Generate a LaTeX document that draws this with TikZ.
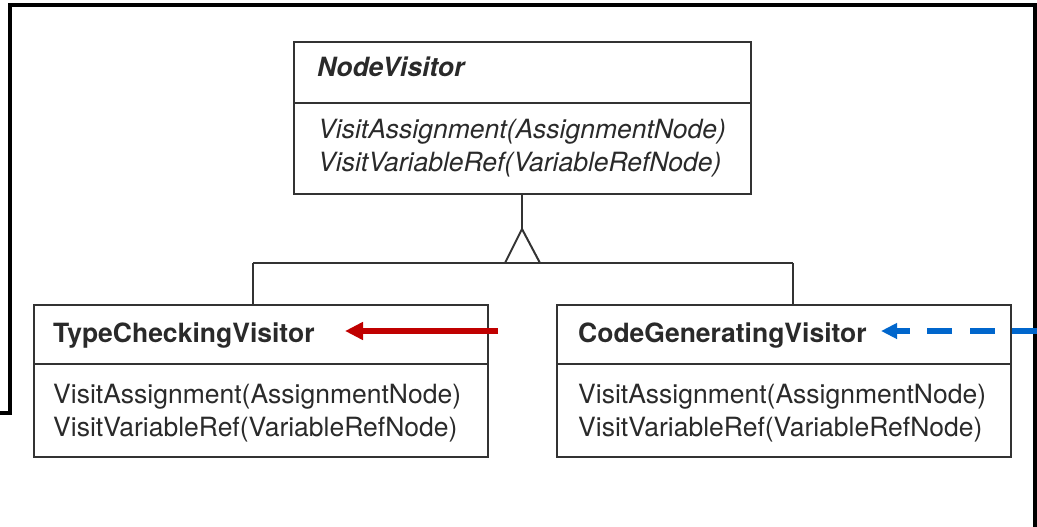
\documentclass[tikz,border=0pt]{standalone}
\usepackage{fontspec}
\setmainfont{TeX Gyre Heros}
\usetikzlibrary{arrows.meta}
\definecolor{boxgray}{HTML}{333333}
\definecolor{textgray}{HTML}{2A2A2A}
\definecolor{arrowred}{HTML}{C00000}
\definecolor{arrowblue}{HTML}{0066CC}
\begin{document}
\begin{tikzpicture}[x=1pt,y=-1pt,
  umlbox/.style={draw=boxgray, line width=2pt, rectangle, inner sep=0pt, outer sep=0pt, anchor=north west},
  boxline/.style={draw=boxgray, line width=2pt},
  txt/.style={anchor=base west, inner sep=0pt, text=textgray, font=\fontsize{26.5}{32}\selectfont},
  frameline/.style={draw=black, line width=4.5pt, miter limit=10},
  redarrow/.style={draw=arrowred, line width=5.5pt, -{Triangle[length=18pt,width=17pt]}},
  bluearrow/.style={draw=arrowblue, line width=6pt, dash pattern=on 25pt off 17.5pt, -{Triangle[length=16pt,width=15pt]}}
]
\useasboundingbox (0,0) rectangle (1037,527);
\fill[white] (0,0) rectangle (1037,527);

% outer frame
\draw[frameline] (0,413) -- (10,413) -- (10,5) -- (1035,5) -- (1035,527);

% NodeVisitor
\node[umlbox, minimum width=457pt, minimum height=152pt] (nv) at (294,42) {};
\draw[boxline] ([yshift=-61pt]nv.north west) -- ([yshift=-61pt]nv.north east);
\node[txt] (nvt) at (317,77) {\bfseries\itshape NodeVisitor};
\node[txt] (nvm1) at (318,138) {\itshape VisitAssignment(AssignmentNode)};
\node[txt] (nvm2) at (318,171) {\itshape VisitVariableRef(VariableRefNode)};

% TypeCheckingVisitor
\node[umlbox, minimum width=454pt, minimum height=152pt] (tc) at (34,305) {};
\draw[boxline] ([yshift=-59pt]tc.north west) -- ([yshift=-59pt]tc.north east);
\node[txt] (tct) at (53,342) {\bfseries TypeCheckingVisitor};
\node[txt] (tcm1) at (53,403) {VisitAssignment(AssignmentNode)};
\node[txt] (tcm2) at (53,436) {VisitVariableRef(VariableRefNode)};

% CodeGeneratingVisitor
\node[umlbox, minimum width=454pt, minimum height=152pt] (cg) at (557,305) {};
\draw[boxline] ([yshift=-59pt]cg.north west) -- ([yshift=-59pt]cg.north east);
\node[txt] (cgt) at (578,342) {\bfseries CodeGeneratingVisitor};
\node[txt] (cgm1) at (578,403) {VisitAssignment(AssignmentNode)};
\node[txt] (cgm2) at (578,436) {VisitVariableRef(VariableRefNode)};

% generalization
\coordinate (apex) at (522,229);
\coordinate (tl) at (505,263);
\coordinate (tr) at (540,263);
\coordinate (jl) at (253,263);
\coordinate (jr) at (793,263);
\draw[boxline] (nv.south -| apex) -- (apex);
\draw[boxline] (tl) -- (apex) -- (tr);
\draw[boxline] (jl) -- (jr);
\draw[boxline] (jl) -- (jl |- tc.north);
\draw[boxline] (jr) -- (jr |- cg.north);

% coloured arrows
\coordinate (rtail) at (498,331);
\coordinate (rtip) at (345,331);
\draw[redarrow] (rtail) -- (rtip);
\coordinate (btail) at (1037,331);
\coordinate (btip) at (881,331);
\draw[bluearrow] (btail) -- (btip);
\end{tikzpicture}
\end{document}
